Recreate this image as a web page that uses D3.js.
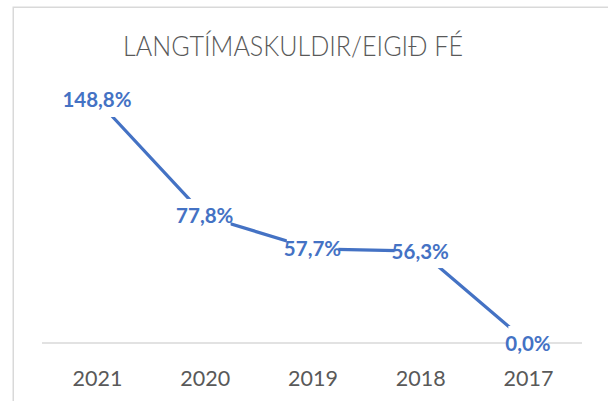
<!DOCTYPE html>
<html><head><meta charset="utf-8">
<script src="https://cdn.jsdelivr.net/npm/d3@7"></script>
<style>html,body{margin:0;padding:0;background:#fff;}svg{display:block;}</style>
</head><body>
<script>
const categories = ["2021","2020","2019","2018","2017"];
const values = [148.8, 77.8, 57.7, 56.3, 0.0];
const labels = ["148,8%","77,8%","57,7%","56,3%","0,0%"];
const title = "LANGTÍMASKULDIR/EIGIÐ FÉ";

const W = 608, H = 401;
const svg = d3.select("body").append("svg").attr("width", W).attr("height", H);

// chart border
svg.append("rect").attr("x", 13.25).attr("y", 7.25).attr("width", 700).attr("height", 600)
  .attr("fill", "#fff").attr("stroke", "#d9d9d9").attr("stroke-width", 1.5);

const x = d3.scalePoint().domain(categories).range([97, 528]);
const y = d3.scaleLinear().domain([0, 160]).range([343, 81.7]);

// title
svg.append("text").attr("x", 293).attr("y", 55.5).attr("text-anchor", "middle")
  .attr("font-family", "Lato, 'Open Sans', sans-serif").attr("font-weight", 300)
  .attr("font-size", 27.5).attr("fill", "#595959")
  .attr("textLength", 340).attr("lengthAdjust", "spacingAndGlyphs")
  .text(title);

// x axis
const axis = d3.axisBottom(x).tickSize(0).tickPadding(0);
const gx = svg.append("g").attr("transform", `translate(0,${y(0)})`).call(axis);
gx.select(".domain").attr("d", "M42,0H582").attr("stroke", "#d9d9d9").attr("stroke-width", 1.5);
gx.selectAll(".tick text").attr("y", 43).attr("dy", null)
  .attr("font-family", "Lato, sans-serif").attr("font-size", 21.5).attr("fill", "#595959");

// line
const data = categories.map((c, i) => ({c, v: values[i], l: labels[i]}));
svg.append("path").datum(data)
  .attr("d", d3.line().x(d => x(d.c)).y(d => y(d.v)))
  .attr("fill", "none").attr("stroke", "#4472C4").attr("stroke-width", 3.25)
  .attr("stroke-linejoin", "round");

// labels
const lg = svg.append("g");
data.forEach(d => {
  const t = lg.append("text").attr("x", x(d.c)).attr("y", y(d.v) + 7.5)
    .attr("text-anchor", "middle").attr("font-family", "Lato, sans-serif")
    .attr("font-weight", 700).attr("font-size", 20.5).attr("fill", "#4472C4").text(d.l);
  const bb = t.node().getBBox();
  lg.insert("rect", "text").attr("x", bb.x + 3).attr("width", bb.width - 6)
    .attr("y", y(d.v) - 17).attr("height", 34).attr("fill", "#fff");
});
</script>
</body></html>
